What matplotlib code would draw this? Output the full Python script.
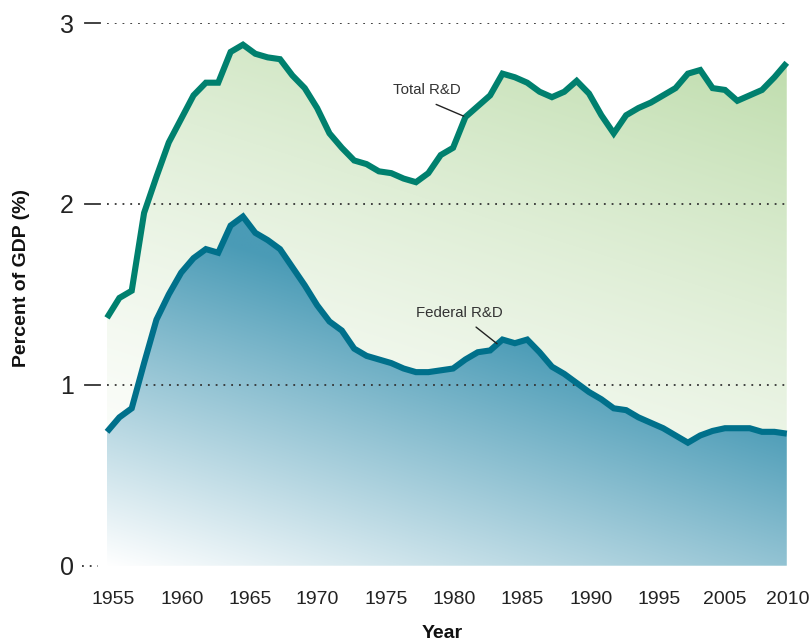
import numpy as np
import matplotlib
matplotlib.use('Agg')
import matplotlib.pyplot as plt
import matplotlib.colors as mcolors
from matplotlib.patches import PathPatch

plt.rcParams['font.family'] = ['Liberation Sans', 'DejaVu Sans']

# data (percent of GDP), one point per year
years = np.arange(1953, 2009)
total_rd = [1.37, 1.48, 1.52, 1.95, 2.15, 2.34, 2.47, 2.60, 2.67, 2.67,
            2.84, 2.88, 2.83, 2.81, 2.80, 2.71, 2.64, 2.53, 2.39, 2.31,
            2.24, 2.22, 2.18, 2.17, 2.14, 2.12, 2.17, 2.27, 2.31, 2.48,
            2.54, 2.60, 2.72, 2.70, 2.67, 2.62, 2.59, 2.62, 2.68, 2.61,
            2.49, 2.39, 2.49, 2.53, 2.56, 2.60, 2.64, 2.72, 2.74, 2.64,
            2.63, 2.57, 2.60, 2.63, 2.70, 2.78]
federal_rd = [0.74, 0.82, 0.87, 1.12, 1.36, 1.50, 1.62, 1.70, 1.75, 1.73,
              1.88, 1.93, 1.84, 1.80, 1.75, 1.65, 1.55, 1.44, 1.35, 1.30,
              1.20, 1.16, 1.14, 1.12, 1.09, 1.07, 1.07, 1.08, 1.09, 1.14,
              1.18, 1.19, 1.25, 1.23, 1.25, 1.18, 1.10, 1.06, 1.01, 0.96,
              0.92, 0.87, 0.86, 0.82, 0.79, 0.76, 0.72, 0.68, 0.72, 0.745,
              0.76, 0.76, 0.76, 0.74, 0.74, 0.73]
x_labels = ['1955', '1960', '1965', '1970', '1975', '1980', '1985',
            '1990', '1995', '2005', '2010']
y_labels = ['0', '1', '2', '3']

W, H = 812, 644
fig = plt.figure(figsize=(W / 100, H / 100), dpi=100)
ax = fig.add_axes([107 / W, (H - 565.7) / H, (788 - 107) / W, (565.7 - 23) / H])

x0, x1 = years[0], years[-1]


def gradient_area(vals, color, a, b, gamma, z):
    poly = ax.fill_between(years, 0, vals, facecolor='none', edgecolor='none')
    patch = PathPatch(poly.get_paths()[0], transform=ax.transData,
                      facecolor='none', edgecolor='none')
    ax.add_patch(patch)
    U, V = np.meshgrid(np.linspace(0, 1, 400), np.linspace(0, 1, 400))
    t = np.clip(a * U + b * V, 0, 1) ** gamma
    c = np.array(mcolors.to_rgb(color))
    img = 1 - t[..., None] * (1 - c)
    im = ax.imshow(img, extent=[x0, x1, 0, 3], origin='lower',
                   aspect='auto', zorder=z, interpolation='bilinear')
    im.set_clip_path(patch)


gradient_area(total_rd, '#bfddad', 0.3, 0.75, 1.6, 1)
gradient_area(federal_rd, '#4a9bb6', 0.6, 1.5, 1.0, 2)

# dotted grid
for v in [1, 2, 3]:
    ax.axhline(v, color='#333333', lw=1.3, ls=(0, (1, 3.3)), zorder=3)
    ax.plot([-0.0323, -0.0103], [v, v], color='#333333', lw=1.3,
            transform=ax.get_yaxis_transform(), clip_on=False)
ax.plot([-0.0367, -0.0132], [0, 0], color='#333333', lw=1.3, ls=(0, (1, 3.3)),
        transform=ax.get_yaxis_transform(), clip_on=False)

ax.plot(years, total_rd, color='#00806e', lw=4.4, zorder=4, clip_on=False,
        solid_joinstyle='miter', solid_capstyle='butt')
ax.plot(years, federal_rd, color='#00708b', lw=4.4, zorder=5, clip_on=False,
        solid_joinstyle='miter', solid_capstyle='butt')

# labels on the curves
ax.text(1978.85, 2.627, 'Total R&D', fontsize=10.8, color='#333333',
        ha='center', va='center', zorder=6)
ax.annotate('', xy=(1981.86, 2.485), xytext=(1979.63, 2.55),
            arrowprops=dict(arrowstyle='-', color='#222222', lw=1,
                            shrinkA=0, shrinkB=0), zorder=6)
ax.text(1981.5, 1.398, 'Federal R&D', fontsize=10.8, color='#333333',
        ha='center', va='center', zorder=6)
ax.annotate('', xy=(1984.56, 1.227), xytext=(1982.86, 1.319),
            arrowprops=dict(arrowstyle='-', color='#222222', lw=1,
                            shrinkA=0, shrinkB=0), zorder=6)

ax.set_xlim(x0, x1)
ax.set_ylim(0, 3)
ax.set_xticks([1953.5, 1959.1, 1964.55, 1970.0, 1975.6, 1981.1, 1986.6,
               1992.2, 1997.7, 2003.0, 2008.1])
ax.set_xticklabels(x_labels, fontsize=14, color='#222222')
ax.set_yticks([0, 1, 2, 3])
ax.set_yticklabels(y_labels, fontsize=18, color='#222222')
ax.tick_params(axis='x', length=0, pad=18.5)
ax.tick_params(axis='y', length=0, pad=24)
for s in ax.spines.values():
    s.set_visible(False)

fig.text(442 / W, 1.5 / H, 'Year', fontsize=14, fontweight='bold',
         ha='center', va='bottom', color='#111111')
fig.text(22 / W, 1 - 278 / H, 'Percent of GDP (%)', fontsize=14,
         fontweight='bold', rotation=90, ha='center', va='center',
         color='#111111')

fig.savefig('out.png', dpi=100)
